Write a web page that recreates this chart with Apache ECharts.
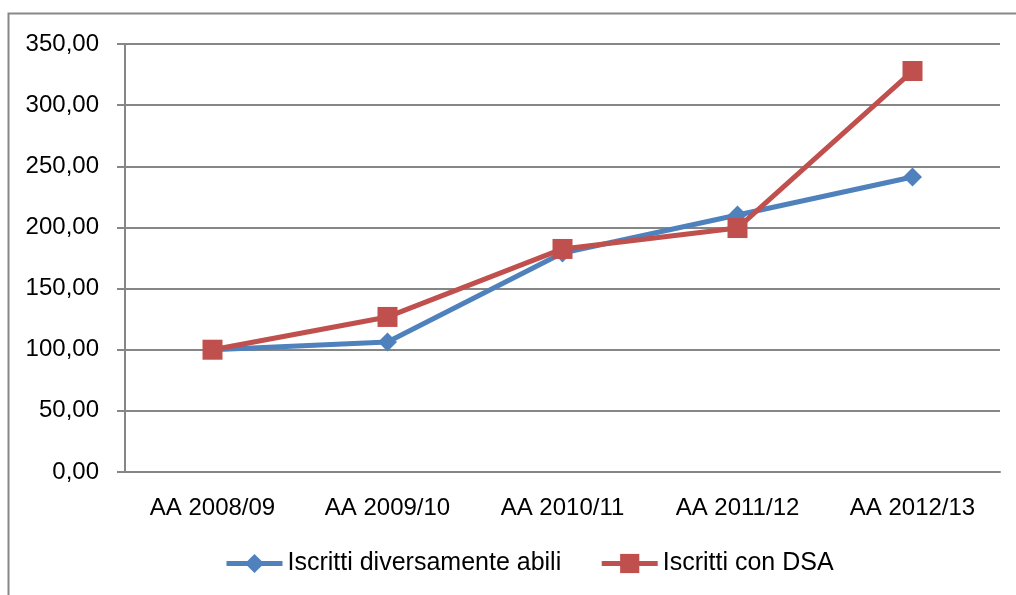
<!DOCTYPE html>
<html>
<head>
<meta charset="utf-8">
<script src="https://cdn.jsdelivr.net/npm/echarts@6/dist/echarts.min.js"></script>
<style>
  html, body { margin: 0; padding: 0; background: #fff; }
  #chart { width: 1016px; height: 595px; }
</style>
</head>
<body>
<div id="chart"></div>
<script>
// dati
var anni = ['AA 2008/09', 'AA 2009/10', 'AA 2010/11', 'AA 2011/12', 'AA 2012/13'];
var diversamenteAbili = [100, 106.3, 179.1, 210.2, 241.2];
var conDSA = [100, 126.8, 182.4, 199.5, 327.9];

var myChart = echarts.init(document.getElementById('chart'));

var fontFam = 'Liberation Sans, Arial, sans-serif';

var option = {
  animation: false,
  backgroundColor: '#fff',
  graphic: [{
    type: 'rect',
    shape: { x: 8.5, y: 13.5, width: 1200, height: 800 },
    style: { fill: 'none', stroke: '#888', lineWidth: 2 },
    silent: true
  }],
  grid: { left: 125, right: 16, top: 44, bottom: 123 },
  legend: {
    top: 551,
    left: 224,
    padding: 0,
    itemWidth: 56,
    itemHeight: 24,
    itemGap: 38,
    lineStyle: { width: 5 },
    textStyle: { fontFamily: fontFam, fontSize: 25, color: '#000' },
    data: ['Iscritti diversamente abili', 'Iscritti con DSA']
  },
  xAxis: {
    type: 'category',
    data: anni,
    boundaryGap: true,
    axisLine: { lineStyle: { color: '#868686', width: 2 } },
    axisTick: { length: 8, lineStyle: { color: '#868686', width: 2 } },
    axisLabel: { color: '#000', fontFamily: fontFam, fontSize: 24, margin: 24 }
  },
  yAxis: {
    type: 'value',
    min: 0,
    max: 350,
    interval: 50,
    axisLine: { show: true, lineStyle: { color: '#868686', width: 2 } },
    axisTick: { show: true, length: 8, lineStyle: { color: '#868686', width: 2 } },
    splitLine: { lineStyle: { color: '#868686', width: 2 } },
    axisLabel: {
      color: '#000', fontFamily: fontFam, fontSize: 24, margin: 26,
      formatter: function (v) { return v.toFixed(2).replace('.', ','); }
    }
  },
  series: [
    {
      name: 'Iscritti diversamente abili',
      type: 'line',
      data: diversamenteAbili,
      symbol: 'diamond',
      symbolSize: 19,
      color: '#4F81BD',
      lineStyle: { width: 5, color: '#4F81BD' },
      itemStyle: { color: '#4F81BD' }
    },
    {
      name: 'Iscritti con DSA',
      type: 'line',
      data: conDSA,
      symbol: 'rect',
      symbolSize: 20,
      color: '#C0504D',
      lineStyle: { width: 5, color: '#C0504D' },
      itemStyle: { color: '#C0504D' }
    }
  ]
};

myChart.setOption(option);
</script>
</body>
</html>
